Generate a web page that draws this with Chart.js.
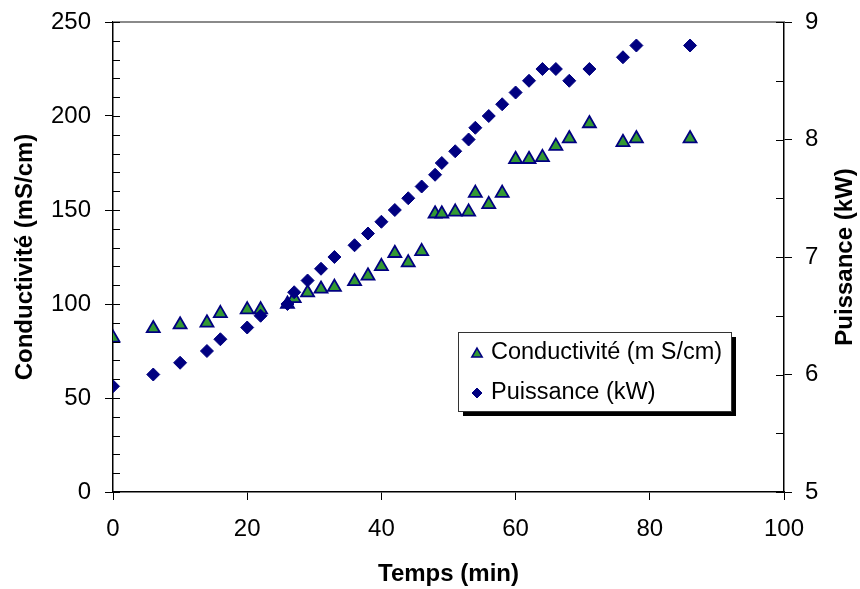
<!DOCTYPE html>
<html>
<head>
<meta charset="utf-8">
<title>Conductivité et puissance</title>
<script src="https://cdn.jsdelivr.net/npm/chart.js@4.4.0/dist/chart.umd.min.js"></script>
<style>
  html, body { margin: 0; padding: 0; background: #fff; }
  #wrap { width: 860px; height: 589px; }
</style>
</head>
<body>
<div id="wrap"><canvas id="mycanvas" width="860" height="589"></canvas></div>
<script>
var temps = [0, 6, 10, 14, 16, 20, 22, 26, 27, 29, 31, 33, 36, 38, 40, 42, 44, 46, 48, 49, 51, 53, 54, 56, 58, 60, 62, 64, 66, 68, 71, 76, 78, 86];
var conductivite = [82, 87, 89, 90, 95, 97, 97, 100, 103, 106, 108, 109, 112, 115, 120, 127, 122, 128, 148, 148, 149, 149, 159, 153, 159, 177, 177, 178, 184, 188, 196, 186, 188, 188];
var puissance = [5.9, 6.0, 6.1, 6.2, 6.3, 6.4, 6.5, 6.6, 6.7, 6.8, 6.9, 7.0, 7.1, 7.2, 7.3, 7.4, 7.5, 7.6, 7.7, 7.8, 7.9, 8.0, 8.1, 8.2, 8.3, 8.4, 8.5, 8.6, 8.6, 8.5, 8.6, 8.7, 8.8, 8.8];

var labelCond = 'Conductivité (m S/cm)';
var labelPuis = 'Puissance (kW)';
var titleX = 'Temps (min)';
var titleY = 'Conductivité (mS/cm)';
var titleY1 = 'Puissance (kW)';

var FONT = '"Liberation Sans", Arial, sans-serif';

function points(xs, ys) {
  var out = [];
  for (var i = 0; i < xs.length; i++) {
    out.push({ x: xs[i], y: ys[i] });
  }
  return out;
}

function marker(ctx, style, x, y, r) {
  ctx.beginPath();
  if (style === 'triangle') {
    ctx.moveTo(x, y - r);
    ctx.lineTo(x + r * 0.866, y + r * 0.5);
    ctx.lineTo(x - r * 0.866, y + r * 0.5);
  } else {
    ctx.moveTo(x, y - r);
    ctx.lineTo(x + r, y);
    ctx.lineTo(x, y + r);
    ctx.lineTo(x - r, y);
  }
  ctx.closePath();
  ctx.fill();
  ctx.stroke();
}

// fixed box sizes so the plot area sits where the original one does
function fixBox(w, h) {
  return function(s) {
    if (w) s.width = w;
    if (h) s.height = h;
    s.paddingTop = 0;
    s.paddingBottom = 0;
    s.paddingLeft = 0;
    s.paddingRight = 0;
  };
}

// frame, inner ticks, axis titles and the boxed legend
var decor = {
  id: 'decor',
  afterDraw: function(chart) {
    var ctx = chart.ctx;
    var a = chart.chartArea;
    var y = chart.scales.y, y1 = chart.scales.y1;
    var v, p;
    ctx.save();

    ctx.strokeStyle = '#8a8a8a';
    ctx.lineWidth = 2;
    ctx.beginPath();
    ctx.moveTo(a.left, a.top);
    ctx.lineTo(a.right, a.top);
    ctx.stroke();

    ctx.strokeStyle = '#000';
    ctx.lineWidth = 1;
    ctx.beginPath();
    for (v = 0; v <= 250; v += 10) {
      p = Math.round(y.getPixelForValue(v)) + 0.5;
      ctx.moveTo(a.left, p);
      ctx.lineTo(a.left + 7, p);
    }
    for (v = 5; v <= 9; v += 0.5) {
      p = Math.round(y1.getPixelForValue(v)) + 0.5;
      ctx.moveTo(a.right - 8, p);
      ctx.lineTo(a.right, p);
    }
    ctx.stroke();

    ctx.fillStyle = '#000';
    ctx.font = 'bold 24px ' + FONT;
    ctx.textAlign = 'center';
    ctx.textBaseline = 'middle';
    ctx.fillText(titleX, (a.left + a.right) / 2, 574);
    ctx.save();
    ctx.translate(25, (a.top + a.bottom) / 2);
    ctx.rotate(-Math.PI / 2);
    ctx.fillText(titleY, 0, 0);
    ctx.restore();
    ctx.save();
    ctx.translate(845, (a.top + a.bottom) / 2);
    ctx.rotate(-Math.PI / 2);
    ctx.fillText(titleY1, 0, 0);
    ctx.restore();

    var lx = 458, ly = 332, lw = 273, lh = 79;
    ctx.fillStyle = '#000';
    ctx.fillRect(lx + 5, ly + 5, lw, lh);
    ctx.fillStyle = '#fff';
    ctx.fillRect(lx, ly, lw, lh);
    ctx.strokeStyle = '#333';
    ctx.lineWidth = 1;
    ctx.strokeRect(lx + 0.5, ly + 0.5, lw, lh);

    ctx.font = '23.5px ' + FONT;
    ctx.textAlign = 'left';
    chart.data.datasets.forEach(function(ds, i) {
      var cy = ly + 21 + i * 40;
      ctx.fillStyle = ds.backgroundColor;
      ctx.strokeStyle = ds.borderColor;
      ctx.lineWidth = ds.pointStyle === 'triangle' ? 1.5 : 1;
      marker(ctx, ds.pointStyle, lx + 19, ds.pointStyle === 'triangle' ? cy + 1 : cy, ds.pointStyle === 'triangle' ? 6 : 5);
      ctx.fillStyle = '#000';
      ctx.fillText(ds.label, lx + 33, cy);
    });
    ctx.restore();
  }
};

var ctx = document.getElementById('mycanvas');

var chart = new Chart(ctx, {
  type: 'scatter',
  data: {
    datasets: [
      {
        label: labelCond,
        data: points(temps, conductivite),
        yAxisID: 'y',
        pointStyle: 'triangle',
        backgroundColor: '#339933',
        borderColor: '#000080',
        pointRadius: 7.5,
        pointBorderWidth: 1.8,
        pointHoverRadius: 7.5,
        order: 2
      },
      {
        label: labelPuis,
        data: points(temps, puissance),
        yAxisID: 'y1',
        pointStyle: 'rectRot',
        backgroundColor: '#000080',
        borderColor: '#000080',
        pointRadius: 6.5,
        pointBorderWidth: 1,
        pointHoverRadius: 6.5,
        order: 1
      }
    ]
  },
  options: {
    responsive: false,
    animation: false,
    layout: { padding: { top: 22, left: 0, right: 0, bottom: 0 } },
    plugins: {
      legend: { display: false },
      tooltip: { enabled: false }
    },
    scales: {
      x: {
        type: 'linear',
        min: 0,
        max: 100,
        ticks: { stepSize: 20, padding: 15, color: '#000', font: { family: FONT, size: 24 } },
        grid: { drawOnChartArea: false, tickLength: 8, tickColor: '#000' },
        border: { color: '#000', width: 1.5 },
        afterFit: fixBox(0, 97)
      },
      y: {
        position: 'left',
        min: 0,
        max: 250,
        ticks: { stepSize: 50, padding: 14, color: '#000', font: { family: FONT, size: 24 } },
        grid: { drawOnChartArea: false, tickLength: 8, tickColor: '#000' },
        border: { color: '#000', width: 1.5 },
        afterFit: fixBox(113, 0)
      },
      y1: {
        position: 'right',
        min: 5,
        max: 9,
        ticks: { stepSize: 1, padding: 13, color: '#000', font: { family: FONT, size: 24 } },
        grid: { drawOnChartArea: false, tickLength: 8, tickColor: '#000' },
        border: { color: '#000', width: 1.5 },
        afterFit: fixBox(76, 0)
      }
    }
  },
  plugins: [decor]
});
</script>
</body>
</html>
